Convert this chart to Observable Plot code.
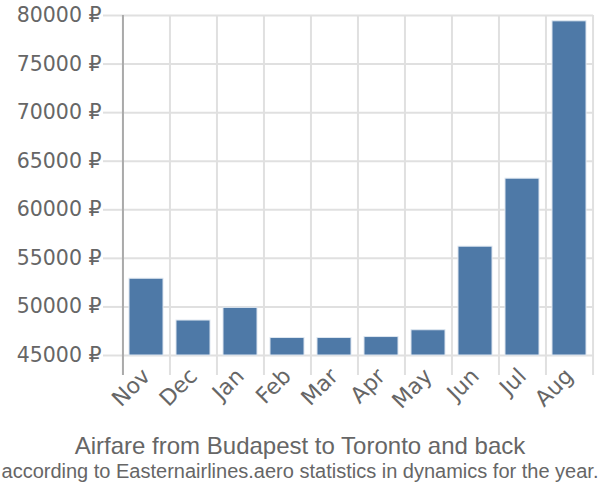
<!DOCTYPE html>
<html>
<head>
<meta charset="utf-8">
<script src="https://cdn.jsdelivr.net/npm/d3@7"></script>
<script src="https://cdn.jsdelivr.net/npm/@observablehq/plot@0.6"></script>
<style>
  body { margin: 0; background: #fff; font-family: "Liberation Sans", Arial, sans-serif; }
  #chart { width: 600px; height: 420px; }
  .title { text-align: center; color: #666; font-size: 24px; line-height: 24px; margin-top: 14px; white-space: nowrap; }
  .subtitle { width: 600px; display: flex; justify-content: center; color: #666; font-size: 20px; line-height: 26px; white-space: nowrap; }
  .subtitle span { display: inline-block; transform-origin: center; }
</style>
</head>
<body>
<div id="chart"></div>
<script>
const months = ["Nov", "Dec", "Jan", "Feb", "Mar", "Apr", "May", "Jun", "Jul", "Aug"];
const prices = [52900, 48600, 49900, 46800, 46800, 46900, 47600, 56200, 63200, 79400];
const yTicks = [45000, 50000, 55000, 60000, 65000, 70000, 75000, 80000];
const titleText = "Airfare from Budapest to Toronto and back";
const subtitleText = "according to Easternairlines.aero statistics in dynamics for the year.";

const data = months.map((m, i) => ({month: m, price: prices[i]}));
const step = 47.1;
const gridColor = "#e0e0e0";

const chart = Plot.plot({
  width: 600,
  height: 420,
  marginTop: 15,
  marginLeft: 122,
  marginRight: 7,
  marginBottom: 45,
  style: {fontFamily: "DejaVu Sans, sans-serif", fontSize: "20px", color: "#666", background: "#fff"},
  x: {domain: months, paddingInner: 0.28, paddingOuter: 0.14, label: null},
  y: {domain: [80000 - 37058.8, 80000], label: null},
  marks: [
    Plot.ruleY(yTicks, {stroke: gridColor, strokeWidth: 2, strokeOpacity: 1}),
    Plot.ruleX(months, {x: d => d, dx: -step / 2, stroke: gridColor, strokeWidth: 2}),
    Plot.ruleX(["Aug"], {x: d => d, dx: step / 2, stroke: gridColor, strokeWidth: 2}),
    Plot.axisY({ticks: yTicks, tickSize: 19, tickPadding: 2, stroke: gridColor, strokeWidth: 2, strokeOpacity: 1, fill: "#666", fontSize: 20.5, fontFamily: "DejaVu Sans", tickFormat: d => d + " ₽", label: null}),
    Plot.ruleX(["Nov"], {x: d => d, dx: -step / 2, stroke: "#aaa", strokeWidth: 2}),
    Plot.barY(data, {x: "month", y1: 45000, y2: "price", fill: "#4e79a7", stroke: "#dde6f0", strokeWidth: 1}),
    Plot.axisX({tickSize: 0, tickPadding: -3, tickRotate: -45, fill: "#666", fontSize: 22, fontFamily: "DejaVu Sans", label: null})
  ]
});
document.getElementById("chart").appendChild(chart);

const t = document.createElement("div");
t.className = "title";
t.textContent = titleText;
document.body.appendChild(t);
const s = document.createElement("div");
s.className = "subtitle";
const sp = document.createElement("span");
sp.textContent = subtitleText;
s.appendChild(sp);
document.body.appendChild(s);
const w = sp.getBoundingClientRect().width;
if (w > 597) sp.style.transform = `scaleX(${597 / w})`;
</script>
</body>
</html>
